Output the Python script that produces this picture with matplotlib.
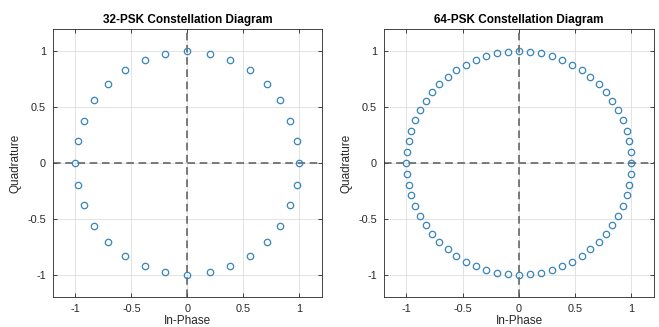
import matplotlib
matplotlib.use('Agg')
import matplotlib.pyplot as plt

# 32-PSK constellation points
i32 = [1.00, 0.98, 0.92, 0.83, 0.71, 0.56, 0.38, 0.20, 0.00,
       -0.20, -0.38, -0.56, -0.71, -0.83, -0.92, -0.98, -1.00,
       -0.98, -0.92, -0.83, -0.71, -0.56, -0.38, -0.20, 0.00,
       0.20, 0.38, 0.56, 0.71, 0.83, 0.92, 0.98]
q32 = [0.00, 0.20, 0.38, 0.56, 0.71, 0.83, 0.92, 0.98, 1.00,
       0.98, 0.92, 0.83, 0.71, 0.56, 0.38, 0.20, 0.00,
       -0.20, -0.38, -0.56, -0.71, -0.83, -0.92, -0.98, -1.00,
       -0.98, -0.92, -0.83, -0.71, -0.56, -0.38, -0.20]

# 64-PSK constellation points
i64 = [1.000, 0.995, 0.981, 0.957, 0.924, 0.882, 0.831, 0.773,
       0.707, 0.634, 0.556, 0.471, 0.383, 0.290, 0.195, 0.098,
       0.000, -0.098, -0.195, -0.290, -0.383, -0.471, -0.556, -0.634,
       -0.707, -0.773, -0.831, -0.882, -0.924, -0.957, -0.981, -0.995,
       -1.000, -0.995, -0.981, -0.957, -0.924, -0.882, -0.831, -0.773,
       -0.707, -0.634, -0.556, -0.471, -0.383, -0.290, -0.195, -0.098,
       0.000, 0.098, 0.195, 0.290, 0.383, 0.471, 0.556, 0.634,
       0.707, 0.773, 0.831, 0.882, 0.924, 0.957, 0.981, 0.995]
q64 = [0.000, 0.098, 0.195, 0.290, 0.383, 0.471, 0.556, 0.634,
       0.707, 0.773, 0.831, 0.882, 0.924, 0.957, 0.981, 0.995,
       1.000, 0.995, 0.981, 0.957, 0.924, 0.882, 0.831, 0.773,
       0.707, 0.634, 0.556, 0.471, 0.383, 0.290, 0.195, 0.098,
       0.000, -0.098, -0.195, -0.290, -0.383, -0.471, -0.556, -0.634,
       -0.707, -0.773, -0.831, -0.882, -0.924, -0.957, -0.981, -0.995,
       -1.000, -0.995, -0.981, -0.957, -0.924, -0.882, -0.831, -0.773,
       -0.707, -0.634, -0.556, -0.471, -0.383, -0.290, -0.195, -0.098]

titles = ['32-PSK Constellation Diagram', '64-PSK Constellation Diagram']
ticks = [-1, -0.5, 0, 0.5, 1]
tick_labels = ['-1', '-0.5', '0', '0.5', '1']

plt.rcParams['font.family'] = ['Liberation Sans', 'DejaVu Sans']

fig = plt.figure(figsize=(6.59, 3.27), dpi=100)
boxes = [[0.0804, 0.0917, 0.408, 0.8196], [0.5827, 0.0917, 0.4097, 0.8196]]
blue = (0.22, 0.52, 0.72)
tcol = (0.15, 0.15, 0.15)

for box, title, xs, ys in zip(boxes, titles, (i32, i64), (q32, q64)):
    ax = fig.add_axes(box)
    ax.grid(True, color=(0.87, 0.87, 0.87), lw=0.6, zorder=0)
    ax.axhline(0, color=(0.35, 0.35, 0.35), ls=(0, (5, 3)), lw=1.1, zorder=2)
    ax.axvline(0, color=(0.35, 0.35, 0.35), ls=(0, (5, 3)), lw=1.1, zorder=2)
    ax.plot(xs, ys, 'o', mfc='none', mec=blue, ms=4.6, mew=0.9, zorder=3)
    ax.set_xlim(-1.2, 1.2)
    ax.set_ylim(-1.2, 1.2)
    ax.set_xticks(ticks)
    ax.set_xticklabels(tick_labels)
    ax.set_yticks(ticks)
    ax.set_yticklabels(tick_labels)
    ax.tick_params(direction='in', length=3, width=0.6, top=True, right=True,
                   labelsize=7.8, colors=tcol, labelcolor=tcol, pad=5)
    for sp in ax.spines.values():
        sp.set_color(tcol)
        sp.set_linewidth(0.6)
    ax.set_title(title, fontsize=8.5, fontweight='bold', color='black', pad=4)
    ax.set_xlabel('In-Phase', fontsize=8.5, color=tcol, labelpad=1)
    ax.set_ylabel('Quadrature', fontsize=8.5, color=tcol, labelpad=4)

fig.savefig('out.png', dpi=100)
